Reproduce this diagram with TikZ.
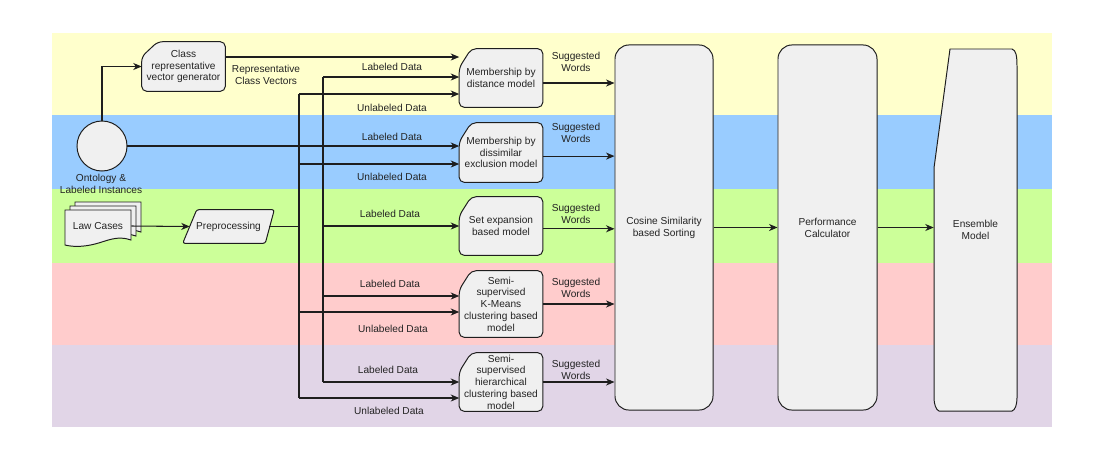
\documentclass[tikz,border=0pt]{standalone}
\usepackage{fontspec}
\setmainfont{Liberation Sans}
\usetikzlibrary{arrows.meta}
\pgfdeclarelayer{bands}
\pgfdeclarelayer{shapes}
\pgfsetlayers{bands,shapes,main}
\definecolor{bandY}{RGB}{255,255,204}
\definecolor{bandB}{RGB}{153,204,255}
\definecolor{bandG}{RGB}{204,255,153}
\definecolor{bandR}{RGB}{255,204,204}
\definecolor{bandP}{RGB}{225,213,231}
\definecolor{boxfill}{RGB}{240,240,240}
\definecolor{linec}{RGB}{30,30,30}
\definecolor{ink}{RGB}{35,35,35}
\tikzset{
  txt/.style={font=\fontsize{7.2}{8.4}\selectfont, text=ink, align=center, inner sep=0pt},
  hold/.style={txt, draw=none, minimum width=2.075cm},
  shp/.style={draw=linec, fill=boxfill, line width=0.7pt},
  ln/.style={draw=linec, line width=0.75pt},
  arr/.style={ln, -{Stealth[length=6pt,width=5pt,inset=1.8pt]}},
  bigbox/.style={txt, shp, rounded corners=10pt, minimum height=9.125cm},
}
\newcommand\cardshape[3]{%
  \begin{pgfonlayer}{shapes}
  \draw[shp, rounded corners=3.5pt] ([yshift=-#3]#1.north west) -- ([xshift=#2]#1.north west) -- (#1.north east) -- (#1.south east) -- (#1.south west) -- cycle;
  \end{pgfonlayer}}
\newcommand\docshape[2]{%
  \draw[shp] (#1,#2) -- (#1+66,#2) -- (#1+66,#2+30)
    .. controls (#1+52,#2+25) and (#1+42,#2+31) .. (#1+30,#2+34)
    .. controls (#1+18,#2+37) and (#1+8,#2+37) .. (#1,#2+35) -- cycle;}
\begin{document}
\begin{tikzpicture}[x=0.025cm,y=-0.025cm]
\useasboundingbox (0,0) rectangle (1100,450);
\begin{pgfonlayer}{bands}
\fill[white] (0,0) rectangle (1100,450);
\fill[bandY] (52,33) rectangle (1052,115);
\fill[bandB] (52,115) rectangle (1052,189);
\fill[bandG] (52,189) rectangle (1052,263);
\fill[bandR] (52,263) rectangle (1052,345);
\fill[bandP] (52,345) rectangle (1052,427);
\end{pgfonlayer}

% left part
\node[hold, minimum height=1.225cm] (cls) at (183.5,66.5) {Class\\representative\\vector generator};
\cardshape{cls}{0.4cm}{0.375cm}
\node[txt, shp, circle, minimum size=1.25cm] (ont) at (102,146) {};
\node[txt, anchor=north] (ontl) at (101,174) {Ontology \&\\Labeled Instances};

\begin{pgfonlayer}{shapes}
\docshape{75}{202}
\docshape{70}{206}
\docshape{65}{210}
\end{pgfonlayer}
\node[hold, minimum width=1.65cm, minimum height=0.8cm] (law) at (98,226) {Law Cases};

\node[hold, minimum width=2.275cm, minimum height=0.825cm] (pre) at (228.5,226.5) {Preprocessing};
\begin{pgfonlayer}{shapes}
\draw[shp, rounded corners=1.5pt] ([xshift=0.35cm]pre.north west) -- (pre.north east) -- ([xshift=-0.225cm]pre.south east) -- (pre.south west) -- cycle;
\end{pgfonlayer}

% models
\node[hold, minimum height=1.45cm] (m1) at (501,78) {Membership by\\distance model};
\cardshape{m1}{0.3cm}{0.475cm}
\node[hold, minimum height=1.475cm] (m2) at (501,152.5) {Membership by\\dissimilar\\exclusion model};
\cardshape{m2}{0.3cm}{0.475cm}
\node[hold, minimum height=1.45cm] (m3) at (501,226) {Set expansion\\based model};
\cardshape{m3}{0.3cm}{0.475cm}
\node[hold, minimum height=1.65cm] (m4) at (501,304) {Semi-\\supervised\\K-Means\\clustering based\\model};
\cardshape{m4}{0.3cm}{0.475cm}
\node[hold, minimum height=1.45cm] (m5) at (501,382) {Semi-\\supervised\\hierarchical\\clustering based\\model};
\cardshape{m5}{0.3cm}{0.475cm}

% big boxes
\node[bigbox, minimum width=2.45cm] (cos) at (664,227.5) {Cosine Similarity\\based Sorting};
\node[bigbox, minimum width=2.475cm] (perf) at (827.5,227.5) {Performance\\Calculator};
\node[hold, minimum width=2.075cm, minimum height=9.05cm] (ens) at (975.5,230) {Ensemble\\Model};
\begin{pgfonlayer}{shapes}
\draw[shp] (950,49) -- (1012,49) .. controls (1016,50) and (1017,56) .. (1017,66) -- (1017,398)
  .. controls (1017,405) and (1015,410) .. (1012,411) -- (939,411)
  .. controls (936,410) and (934,404) .. (934,398) -- (934,168) -- cycle;
\end{pgfonlayer}

% connectors left
\draw[arr] (ont.north) |- (cls.west);
\coordinate (cv) at (225,57);
\draw[arr] (cv) -- (cv -| m1.west);
\draw[arr] (law.east) -- ([xshift=0.175cm]pre.west);
\coordinate (Lt) at (323,77);
\coordinate (L3) at (323,226);
\coordinate (L4) at (323,296);
\coordinate (Lb) at (323,382);
\coordinate (Ut) at (299,94);
\coordinate (U2) at (299,164);
\coordinate (U4) at (299,312);
\coordinate (Ub) at (299,398);
\draw[ln] (Lt) -- (Lb);
\draw[ln] (Ut) -- (Ub);
\draw[ln] ([xshift=-0.12cm]pre.east) -- (pre.east -| Ut);
\draw[arr] (Lt) -- (Lt -| m1.west);
\draw[arr] (Ut) -- (Ut -| m1.west);
\draw[arr] (ont.east) -- (ont.east -| m2.west);
\draw[arr] (U2) -- (U2 -| m2.west);
\draw[arr] (L3) -- (L3 -| m3.west);
\draw[arr] (L4) -- (L4 -| m4.west);
\draw[arr] (U4) -- (U4 -| m4.west);
\draw[arr] (Lb) -- (Lb -| m5.west);
\draw[arr] (Ub) -- (Ub -| m5.west);

% outputs
\draw[arr] ([yshift=-0.125cm]m1.east) -- ([yshift=-0.125cm]m1.east -| cos.west);
\draw[arr] ([yshift=-0.09cm]m2.east) -- ([yshift=-0.09cm]m2.east -| cos.west);
\draw[arr] ([yshift=-0.07cm]m3.east) -- ([yshift=-0.07cm]m3.east -| cos.west);
\draw[arr] (m4.east) -- (m4.east -| cos.west);
\draw[arr] (m5.east) -- (m5.east -| cos.west);
\draw[arr] (cos.east) -- (perf.west);
\draw[arr] (perf.east) -- (perf.east -| ens.west);

% labels
\node[txt] (rcv) at (266,75) {Representative\\Class Vectors};
\node[txt] (l1) at (392,67) {Labeled Data};
\node[txt] (u1) at (392,108) {Unlabeled Data};
\node[txt] (l2) at (392,137) {Labeled Data};
\node[txt] (u2) at (392,177) {Unlabeled Data};
\node[txt] (l3) at (390,214) {Labeled Data};
\node[txt] (l4) at (390,284) {Labeled Data};
\node[txt] (u4) at (393,329) {Unlabeled Data};
\node[txt] (l5) at (388,370) {Labeled Data};
\node[txt] (u5) at (389,411) {Unlabeled Data};
\node[txt] (s1) at (576,62) {Suggested\\Words};
\node[txt] (s2) at (576,133) {Suggested\\Words};
\node[txt] (s3) at (576,214) {Suggested\\Words};
\node[txt] (s4) at (576,288) {Suggested\\Words};
\node[txt] (s5) at (576,370) {Suggested\\Words};
\end{tikzpicture}
\end{document}
